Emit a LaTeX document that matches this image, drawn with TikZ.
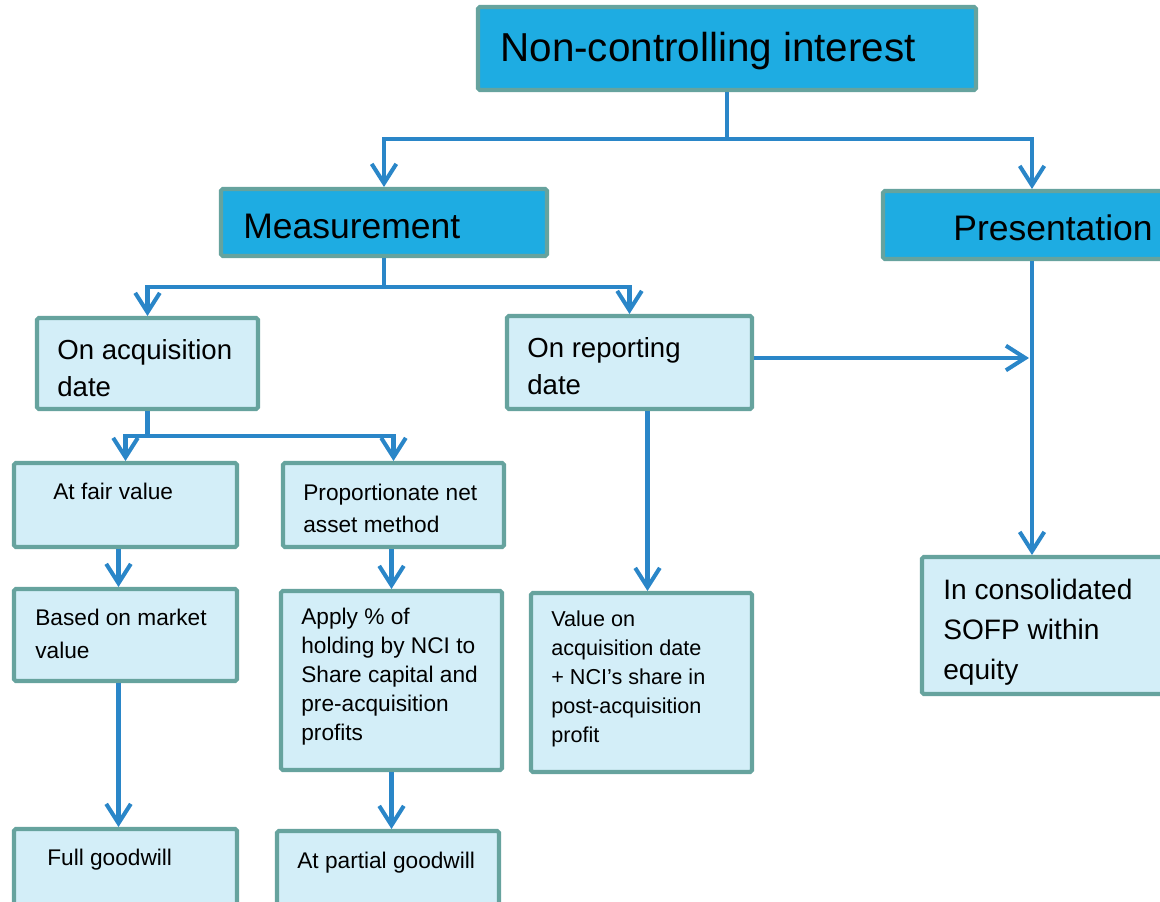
\documentclass[tikz,border=0pt]{standalone}
\usepackage{fontspec}
\setmainfont{Liberation Sans}
\usetikzlibrary{arrows.meta,calc}
\definecolor{darkfill}{HTML}{1EACE2}
\definecolor{lightfill}{HTML}{D3EEF8}
\definecolor{edgecol}{HTML}{66A39E}
\definecolor{conncol}{HTML}{2A86C8}
\begin{document}
\begin{tikzpicture}[x=0.02cm,y=-0.02cm,
  box/.style={draw=edgecol, line width=2.3pt, rounded corners=1pt, inner sep=0pt},
  darkbox/.style={box, fill=darkfill},
  lightbox/.style={box, fill=lightfill},
  sz/.style 2 args={minimum width=#1*0.02cm, minimum height=#2*0.02cm},
  txt/.style={anchor=base west, inner sep=0pt, align=left, text=black},
  conn/.style={draw=conncol, line width=2.3pt},
  arr/.style={conn, -{Straight Barb[length=11pt,width=14pt]}}]
\useasboundingbox (0,0) rectangle (1160,902);

% boxes
\node[darkbox, sz={498}{83}] (T) at (727,48.5) {};
\node[darkbox, sz={326}{67}] (M) at (384,222.5) {};
\node[darkbox, sz={298}{68}] (P) at (1032,225) {};
\node[lightbox, sz={221}{91}] (OA) at (147.5,363.5) {};
\node[lightbox, sz={245}{93}] (OR) at (629.5,362.5) {};
\node[lightbox, sz={223}{84}] (AF) at (125.5,505) {};
\node[lightbox, sz={221}{84}] (PN) at (393.5,505) {};
\node[lightbox, sz={223}{92}] (BM) at (125.5,635) {};
\node[lightbox, sz={221}{179}] (AP) at (391.5,680.5) {};
\node[lightbox, sz={221}{179}] (VA) at (641.5,682.5) {};
\node[lightbox, sz={250}{137}] (IC) at (1047,625.5) {};
\node[lightbox, sz={223}{101}] (FG) at (125.5,879.5) {};
\node[lightbox, sz={222}{101}] (PG) at (388,881.5) {};

% texts (anchored at the baseline of the last line)
\node[txt, font=\fontsize{23}{28}\selectfont] (tT) at (500,62) {Non-controlling interest};
\node[txt, font=\fontsize{20.2}{24}\selectfont] (tM) at (243,238.5) {Measurement};
\node[txt, font=\fontsize{20.2}{24}\selectfont] (tP) at (953,241) {Presentation};
\node[txt, font=\fontsize{15.7}{21.5}\selectfont] (tOA) at (57,397) {On acquisition\\date};
\node[txt, font=\fontsize{15.7}{21.5}\selectfont] (tOR) at (527,395) {On reporting\\date};
\node[txt, font=\fontsize{12.9}{18.1}\selectfont] (tAF) at (53,499) {At fair value};
\node[txt, font=\fontsize{12.9}{18.1}\selectfont] (tPN) at (303,532) {Proportionate net\\asset method};
\node[txt, font=\fontsize{12.9}{18.7}\selectfont] (tBM) at (35,658) {Based on market\\value};
\node[txt, font=\fontsize{12.9}{16.4}\selectfont] (tAP) at (301,740) {Apply \% of\\holding by NCI to\\Share capital and\\pre-acquisition\\profits};
\node[txt, font=\fontsize{12.3}{16.4}\selectfont] (tVA) at (551,742) {Value on\\acquisition date\\+ NCI’s share in\\post-acquisition\\profit};
\node[txt, font=\fontsize{16}{22.7}\selectfont] (tIC) at (943,679) {In consolidated\\SOFP within\\equity};
\node[txt, font=\fontsize{12.9}{16}\selectfont] (tFG) at (47,865) {Full goodwill};
\node[txt, font=\fontsize{12.9}{16}\selectfont] (tPG) at (297,868) {At partial goodwill};

% connectors
\draw[conn] (T.south) -- (T.south |- 0,139) coordinate (tj);
\draw[arr] (tj) -| (M.north);
\draw[arr] (tj) -| (P.north);
\draw[conn] (M.south) -- (M.south |- 0,287) coordinate (mj);
\draw[arr] (mj) -| (OA.north);
\draw[arr] (mj) -| (OR.north);
\draw[conn] (OA.south) -- (OA.south |- 0,436) coordinate (aj);
\draw[arr] (aj) -| (AF.north);
\draw[arr] (aj) -| (PN.north);
\draw[arr] ($(AF.south)+(-7,0)$) -- ($(BM.north)+(-7,0)$);
\draw[arr] (PN.south -| AP.north) -- (AP.north);
\draw[arr] ($(BM.south)+(-7,0)$) -- ($(FG.north)+(-7,0)$);
\draw[arr] (AP.south) -- (AP.south |- PG.north);
\draw[arr] ($(OR.south)+(18,0)$) coordinate (rs) -- (rs |- VA.north);
\draw[arr] (P.south) -- (P.south |- IC.north);
\draw[arr] ($(OR.east)+(0,-4.5)$) -- ($(P.south |- OR.east)+(-3,-4.5)$);
\end{tikzpicture}
\end{document}
